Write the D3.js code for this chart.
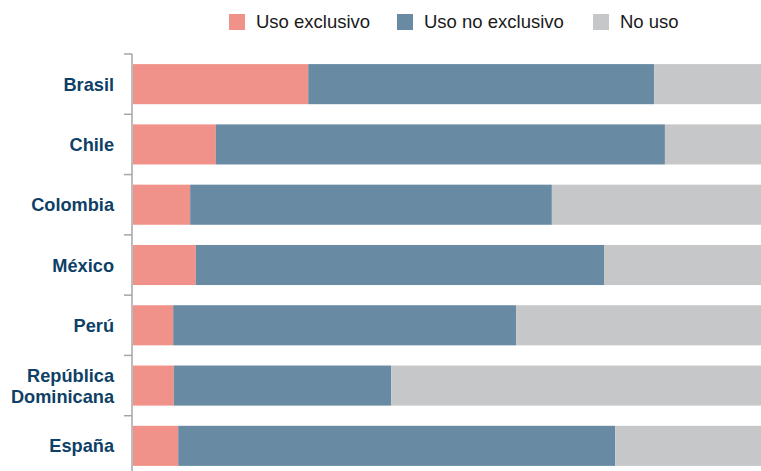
<!DOCTYPE html>
<html><head><meta charset="utf-8">
<script src="https://cdn.jsdelivr.net/npm/d3@7/dist/d3.min.js"></script>
<style>body{margin:0;background:#fff}svg{display:block;font-family:"Liberation Sans",Arial,sans-serif}</style>
</head><body>
<script>
const categories = ["Brasil","Chile","Colombia","México","Perú","República Dominicana","España"];
const seriesNames = ["Uso exclusivo","Uso no exclusivo","No uso"];
const usoExclusivo = [27.9, 13.2, 9.1, 10.0, 6.4, 6.5, 7.2];
const usoNoExclusivo = [55.1, 71.5, 57.6, 65.0, 54.6, 34.6, 69.6];
const noUso = [17.0, 15.3, 33.3, 25.0, 39.0, 58.9, 23.2];
const colors = ["#F0928A","#688BA3","#C6C7C9"];

const W = 761, H = 471;
const svg = d3.select("body").append("svg").attr("width", W).attr("height", H);
const x = d3.scaleLinear().domain([0,100]).range([133, 761]);
const y = d3.scaleBand().domain(categories).range([54, 476]).paddingInner(0.335).paddingOuter(0.1675);

const rows = categories.map((c,i)=>({cat:c, "Uso exclusivo":usoExclusivo[i], "Uso no exclusivo":usoNoExclusivo[i], "No uso":noUso[i]}));
const stack = d3.stack().keys(seriesNames)(rows);

svg.append("g").selectAll("g").data(stack).join("g").attr("fill",(d,i)=>colors[i])
  .selectAll("rect").data(d=>d).join("rect")
  .attr("x", d=>x(d[0])).attr("width", d=>x(d[1])-x(d[0]))
  .attr("y", d=>y(d.data.cat)).attr("height", y.bandwidth());

// axis line and ticks at band boundaries
const step = y.step();
const ax = svg.append("g");
ax.append("line").attr("x1",132).attr("x2",132).attr("y1",54).attr("y2",H).attr("stroke","#a6a6a6").attr("stroke-width",1.5);
d3.range(categories.length+1).forEach(i=>{
  const yy = 54 + i*step;
  ax.append("line").attr("x1",124).attr("x2",132).attr("y1",yy).attr("y2",yy).attr("stroke","#a6a6a6").attr("stroke-width",1.5);
});

// labels
categories.forEach(c=>{
  const cy = y(c) + y.bandwidth()/2;
  const words = c === "República Dominicana" ? ["República","Dominicana"] : [c];
  const t = svg.append("text").attr("x",114).attr("text-anchor","end")
    .attr("fill","#0E3F66").attr("font-weight","bold").attr("font-size",18.2);
  const lh = 21;
  words.forEach((w,k)=>{
    t.append("tspan").attr("x",114).attr("y", cy + 6.5 + (k-(words.length-1)/2)*lh).text(w);
  });
});

// legend
const legX = [229, 397, 593];
seriesNames.forEach((s,i)=>{
  svg.append("rect").attr("x",legX[i]).attr("y",14).attr("width",16).attr("height",16).attr("fill",colors[i]);
  svg.append("text").attr("x",legX[i]+27).attr("y",28).attr("font-size",18.5).attr("fill","#1a1a1a").text(s);
});
</script>
</body></html>
